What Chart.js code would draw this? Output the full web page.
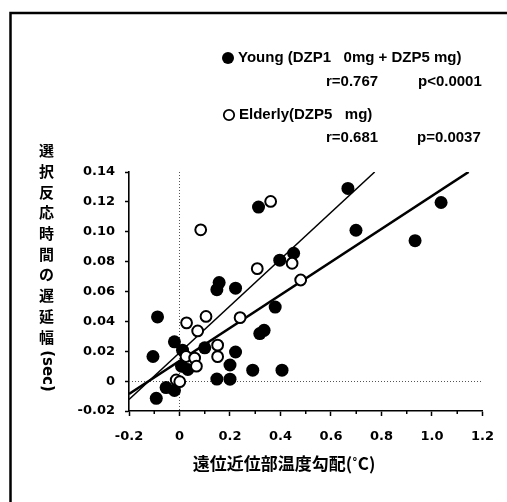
<!DOCTYPE html>
<html><head><meta charset="utf-8">
<script src="https://cdn.jsdelivr.net/npm/chart.js@4/dist/chart.umd.min.js"></script>
<style>html,body{margin:0;padding:0;background:#fff;overflow:hidden}#wrap{position:relative;width:507px;height:502px}</style>
</head><body><div id="wrap"><canvas id="c" width="507" height="502"></canvas></div>
<script>
// ---- data ----
const youngX = [0.667,0.313,0.699,1.036,0.933,0.452,0.397,0.222,0.157,0.148,0.379,0.335,0.318,-0.087,-0.020,0.012,0.100,-0.105,0.222,0.200,0.290,0.406,0.148,0.200,0.008,0.033,-0.053,-0.020,-0.092];
const youngY = [0.129,0.1165,0.101,0.1196,0.094,0.0856,0.081,0.0622,0.066,0.0612,0.0496,0.0340,0.0318,0.0430,0.0263,0.0207,0.0223,0.0165,0.0195,0.0108,0.0073,0.0073,0.0014,0.0013,0.0100,0.0078,-0.0043,-0.0062,-0.0115];
const elderlyX = [0.361,0.084,0.308,0.446,0.480,0.105,0.240,0.028,0.072,0.151,0.151,0.026,0.060,0.067,-0.013,0.001];
const elderlyY = [0.1203,0.1013,0.0753,0.0789,0.0677,0.0433,0.0425,0.0390,0.0336,0.0241,0.0164,0.0165,0.0154,0.0100,0.0008,-0.0004];
// regression lines (end points as drawn)
const youngFitX = [-0.2, 1.145];
const youngFitY = [-0.0086, 0.14];
const elderlyFitX = [-0.2, 0.773];
const elderlyFitY = [-0.0123, 0.14];
// axes
const xMin = -0.2, xMax = 1.2, xStep = 0.2, xMinorStep = 0.1;
const yMin = -0.02, yMax = 0.14, yStep = 0.02;
// texts
const legendYoung = 'Young (DZP1   0mg + DZP5 mg)';
const statsYoung = ['r=0.767', 'p<0.0001'];
const legendElderly = 'Elderly(DZP5   mg)';
const statsElderly = ['r=0.681', 'p=0.0037'];
const xTitle = '遠位近位部温度勾配(˚C)';
const yTitleChars = ['選','択','反','応','時','間','の','遅','延','幅'];
const yTitleLatin = '(sec)';

const pts = (xs, ys) => xs.map((x, i) => ({x, y: ys[i]}));

const TICKFONT = {family: 'DejaVu Sans', weight: 'bold', size: 13};

const decor = {
  id: 'decor',
  beforeDraw(chart) {
    const ctx = chart.ctx;
    ctx.save();
    ctx.fillStyle = '#fff';
    ctx.fillRect(0, 0, chart.width, chart.height);
    // frame
    ctx.strokeStyle = '#000';
    ctx.lineWidth = 2.5;
    ctx.beginPath();
    ctx.moveTo(10.5, 520); ctx.lineTo(10.5, 13); ctx.lineTo(520, 13);
    ctx.stroke();
    ctx.restore();
  },
  beforeDatasetsDraw(chart) {
    const ctx = chart.ctx, xs = chart.scales.x, ys = chart.scales.y, a = chart.chartArea;
    ctx.save();
    ctx.strokeStyle = '#555';
    ctx.lineWidth = 1;
    ctx.setLineDash([1, 2]);
    const x0 = Math.round(xs.getPixelForValue(0)) + 0.5;
    const y0 = Math.round(ys.getPixelForValue(0)) + 0.5;
    ctx.beginPath(); ctx.moveTo(x0, a.top); ctx.lineTo(x0, a.bottom); ctx.stroke();
    ctx.beginPath(); ctx.moveTo(a.left, y0); ctx.lineTo(a.right, y0); ctx.stroke();
    ctx.setLineDash([]);
    // minor ticks on x axis
    ctx.strokeStyle = '#000';
    ctx.lineWidth = 1.5;
    for (let v = xMin + xMinorStep; v < xMax; v += xStep) {
      const px = xs.getPixelForValue(v);
      ctx.beginPath(); ctx.moveTo(px, a.bottom); ctx.lineTo(px, a.bottom + 3); ctx.stroke();
    }
    ctx.restore();
  },
  afterDraw(chart) {
    const ctx = chart.ctx;
    ctx.save();
    ctx.fillStyle = '#000';
    // legend
    ctx.beginPath(); ctx.arc(228, 58, 6, 0, Math.PI * 2); ctx.fill();
    ctx.lineWidth = 1.8; ctx.strokeStyle = '#000';
    ctx.beginPath(); ctx.arc(229, 115, 5.2, 0, Math.PI * 2); ctx.stroke();
    ctx.font = 'bold 15px "Liberation Sans"';
    ctx.textBaseline = 'middle'; ctx.textAlign = 'left';
    ctx.fillText(legendYoung, 238, 58);
    ctx.fillText(statsYoung[0], 326, 82);
    ctx.fillText(statsYoung[1], 418, 82);
    ctx.fillText(legendElderly, 239, 115);
    ctx.fillText(statsElderly[0], 326, 138);
    ctx.fillText(statsElderly[1], 417, 138);
    // x title
    ctx.font = 'bold 17px "Noto Sans CJK JP"';
    ctx.textAlign = 'center';
    ctx.fillText(xTitle, 284, 464);
    // y title (vertical)
    ctx.font = 'bold 15px "Noto Sans CJK JP"';
    yTitleChars.forEach((ch, i) => ctx.fillText(ch, 46.5, 150.5 + i * 20.7));
    ctx.save();
    ctx.translate(46.5, 371);
    ctx.rotate(Math.PI / 2);
    ctx.font = 'bold 15px "DejaVu Sans"';
    ctx.fillText(yTitleLatin, 0, 0);
    ctx.restore();
    ctx.restore();
  }
};

new Chart(document.getElementById('c'), {
  type: 'scatter',
  data: {
    datasets: [
      {label: 'Young fit', data: pts(youngFitX, youngFitY), showLine: true, borderColor: '#000', borderWidth: 2.6, pointRadius: 0, order: 3},
      {label: 'Elderly fit', data: pts(elderlyFitX, elderlyFitY), showLine: true, borderColor: '#000', borderWidth: 1.5, pointRadius: 0, order: 3},
      {label: 'Young', data: pts(youngX, youngY), backgroundColor: '#000', borderColor: '#000', borderWidth: 0, pointRadius: 6.5, order: 2},
      {label: 'Elderly', data: pts(elderlyX, elderlyY), backgroundColor: '#fff', borderColor: '#000', borderWidth: 2, pointRadius: 5.4, order: 1}
    ]
  },
  options: {
    responsive: false, animation: false, devicePixelRatio: 1,
    layout: {padding: {left: 0, right: 23, top: 172, bottom: 0}},
    plugins: {legend: {display: false}, tooltip: {enabled: false}},
    scales: {
      x: {
        type: 'linear', min: xMin, max: xMax,
        ticks: {stepSize: xStep, color: '#000', font: TICKFONT, padding: 13,
          callback: v => Math.abs(v) < 1e-9 ? '0' : v.toFixed(1)},
        grid: {drawOnChartArea: false, drawTicks: true, tickLength: 5, tickColor: '#000', tickWidth: 1.5},
        border: {color: '#000', width: 1.6},
        afterFit: s => { s.height = 91; }
      },
      y: {
        type: 'linear', min: yMin, max: yMax,
        ticks: {stepSize: yStep, color: '#000', font: TICKFONT, padding: 10,
          callback: v => Math.abs(v) < 1e-9 ? '0' : v.toFixed(2)},
        grid: {drawOnChartArea: false, drawTicks: true, tickLength: 4, tickColor: '#000', tickWidth: 1.5},
        border: {color: '#000', width: 1.6},
        afterFit: s => { s.width = 129; }
      }
    }
  },
  plugins: [decor]
});
</script></body></html>
